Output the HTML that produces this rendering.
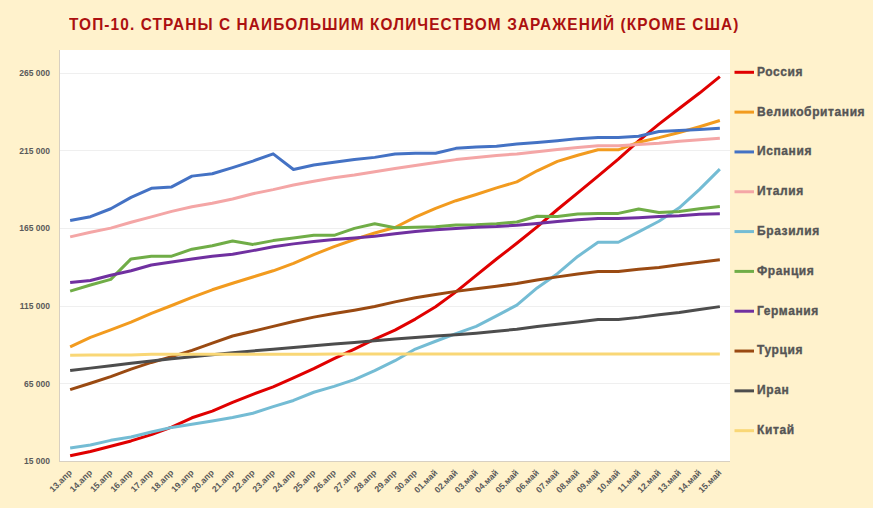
<!DOCTYPE html>
<html><head><meta charset="utf-8">
<style>
html,body{margin:0;padding:0;background:#FFF2CC;}
body{width:873px;height:508px;overflow:hidden;position:relative;font-family:"Liberation Sans",sans-serif;}
#t{position:absolute;left:69px;top:14.0px;transform-origin:0 0;transform:scaleY(1.08);white-space:nowrap;font-weight:bold;font-size:15.4px;color:#AC1010;letter-spacing:1.1px;line-height:20px;}
svg{position:absolute;left:0;top:0;}
.yl{font-size:8.5px;fill:#5A5A5A;font-weight:bold;}
.xl{font-size:8.7px;fill:#5A5A5A;font-weight:bold;}
.lg{font-size:12px;fill:#555555;stroke:#555555;stroke-width:0.35px;font-weight:bold;letter-spacing:0.6px;}
</style></head><body>
<svg width="873" height="508" viewBox="0 0 873 508">
<rect x="60" y="50" width="670" height="411" fill="#FFFFFF"/>
<line x1="60" x2="730" y1="383.5" y2="383.5" stroke="#EFEFEF" stroke-width="1"/>
<text x="50" y="386.5" class="yl" text-anchor="end">65 000</text>
<line x1="60" x2="730" y1="306.5" y2="306.5" stroke="#EFEFEF" stroke-width="1"/>
<text x="50" y="308.9" class="yl" text-anchor="end">115 000</text>
<line x1="60" x2="730" y1="228.5" y2="228.5" stroke="#EFEFEF" stroke-width="1"/>
<text x="50" y="231.4" class="yl" text-anchor="end">165 000</text>
<line x1="60" x2="730" y1="150.5" y2="150.5" stroke="#EFEFEF" stroke-width="1"/>
<text x="50" y="153.8" class="yl" text-anchor="end">215 000</text>
<line x1="60" x2="730" y1="73.5" y2="73.5" stroke="#EFEFEF" stroke-width="1"/>
<text x="50" y="76.3" class="yl" text-anchor="end">265 000</text>
<text x="50" y="464.0" class="yl" text-anchor="end">15 000</text>
<line x1="59.5" x2="59.5" y1="50" y2="461.5" stroke="#D8D0C2" stroke-width="1"/>
<line x1="59" x2="730" y1="461.5" y2="461.5" stroke="#D8D0C2" stroke-width="1"/>
<polyline fill="none" stroke="#E00000" stroke-width="3" stroke-linejoin="round" stroke-linecap="butt" points="70.15,455.84 90.45,451.54 110.76,446.28 131.06,440.93 151.36,434.62 171.67,427.20 191.97,417.80 212.27,411.18 232.58,402.43 252.88,394.31 273.18,386.91 293.48,377.84 313.79,368.58 334.09,358.72 354.39,349.10 374.70,339.16 395.00,330.10 415.30,319.09 435.61,306.79 455.91,291.86 476.21,275.37 496.52,258.96 516.82,243.29 537.12,226.92 557.42,209.50 577.73,192.91 598.03,176.13 618.33,159.05 638.64,140.97 658.94,124.07 679.24,108.52 699.55,93.05 719.85,76.61"/>
<polyline fill="none" stroke="#F29B1F" stroke-width="3" stroke-linejoin="round" stroke-linecap="butt" points="70.15,346.80 90.45,337.30 110.76,329.80 131.06,322.20 151.36,313.40 171.67,305.50 191.97,297.30 212.27,289.80 232.58,283.20 252.88,277.00 273.18,270.80 293.48,263.40 313.79,254.60 334.09,246.60 354.39,239.50 374.70,233.00 395.00,227.50 415.30,217.10 435.61,208.30 455.91,200.70 476.21,194.50 496.52,187.90 516.82,181.90 537.12,170.80 557.42,161.40 577.73,155.30 598.03,149.80 618.33,149.80 638.64,142.20 658.94,137.60 679.24,132.50 699.55,126.70 719.85,120.50"/>
<polyline fill="none" stroke="#4472C4" stroke-width="3" stroke-linejoin="round" stroke-linecap="butt" points="70.15,220.45 90.45,216.66 110.76,208.75 131.06,197.42 151.36,188.28 171.67,186.91 191.97,176.13 212.27,173.75 232.58,167.60 252.88,161.06 273.18,153.88 293.48,169.44 313.79,164.92 334.09,162.24 354.39,159.40 374.70,157.37 395.00,154.04 415.30,153.24 435.61,153.24 455.91,148.36 476.21,146.99 496.52,146.14 516.82,144.10 537.12,142.55 557.42,140.81 577.73,138.63 598.03,137.51 618.33,137.51 638.64,136.31 658.94,131.52 679.24,130.60 699.55,129.58 719.85,128.26"/>
<polyline fill="none" stroke="#F4A6A6" stroke-width="3" stroke-linejoin="round" stroke-linecap="butt" points="70.15,236.86 90.45,232.25 110.76,228.12 131.06,222.25 151.36,216.83 171.67,211.41 191.97,206.69 212.27,203.19 232.58,198.96 252.88,193.73 273.18,189.63 293.48,184.94 313.79,181.29 334.09,177.68 354.39,174.98 374.70,171.74 395.00,168.51 415.30,165.60 435.61,162.56 455.91,159.61 476.21,157.45 496.52,155.56 516.82,153.89 537.12,151.65 557.42,149.48 577.73,147.42 598.03,145.74 618.33,145.74 638.64,144.50 658.94,143.35 679.24,141.17 699.55,139.79 719.85,138.25"/>
<polyline fill="none" stroke="#74BCD4" stroke-width="3" stroke-linejoin="round" stroke-linecap="butt" points="70.15,447.93 90.45,445.08 110.76,440.34 131.06,437.08 151.36,432.03 171.67,427.41 191.97,424.31 212.27,421.07 232.58,417.45 252.88,413.30 273.18,406.66 293.48,400.45 313.79,392.26 334.09,386.40 354.39,379.66 374.70,370.68 395.00,360.68 415.30,349.04 435.61,341.26 455.91,333.67 476.21,326.34 496.52,315.80 516.82,305.20 537.12,287.90 557.42,273.69 577.73,256.44 598.03,242.22 618.33,242.22 638.64,231.93 658.94,221.23 679.24,207.86 699.55,189.37 719.85,169.17"/>
<polyline fill="none" stroke="#70AD47" stroke-width="3" stroke-linejoin="round" stroke-linecap="butt" points="70.15,291.10 90.45,285.00 110.76,279.40 131.06,258.90 151.36,256.20 171.67,256.20 191.97,249.20 212.27,245.70 232.58,241.00 252.88,244.40 273.18,240.60 293.48,238.10 313.79,235.30 334.09,235.30 354.39,228.40 374.70,223.80 395.00,227.80 415.30,227.20 435.61,226.80 455.91,225.00 476.21,224.70 496.52,223.70 516.82,222.00 537.12,216.30 557.42,216.50 577.73,214.00 598.03,213.40 618.33,213.40 638.64,209.00 658.94,212.40 679.24,211.40 699.55,208.80 719.85,206.60"/>
<polyline fill="none" stroke="#7030A0" stroke-width="3" stroke-linejoin="round" stroke-linecap="butt" points="70.15,282.53 90.45,280.53 110.76,275.27 131.06,270.70 151.36,264.97 171.67,261.95 191.97,259.09 212.27,256.17 232.58,254.27 252.88,250.62 273.18,246.77 293.48,243.87 313.79,241.52 334.09,239.57 354.39,238.04 374.70,236.25 395.00,233.73 415.30,231.45 435.61,229.79 455.91,228.41 476.21,227.33 496.52,226.57 516.82,225.25 537.12,223.45 557.42,221.49 577.73,219.69 598.03,218.55 618.33,218.55 638.64,217.69 658.94,216.61 679.24,215.69 699.55,214.25 719.85,213.66"/>
<polyline fill="none" stroke="#9A4A12" stroke-width="3" stroke-linejoin="round" stroke-linecap="butt" points="70.15,389.58 90.45,383.28 110.76,376.64 131.06,369.20 151.36,362.44 171.67,356.58 191.97,350.41 212.27,343.16 232.58,336.01 252.88,331.23 273.18,326.39 293.48,321.55 313.79,317.11 334.09,313.46 354.39,310.15 374.70,306.44 395.00,301.89 415.30,297.83 435.61,294.44 455.91,291.37 476.21,288.78 496.52,286.27 516.82,283.43 537.12,279.94 557.42,276.87 577.73,274.00 598.03,271.61 618.33,271.61 638.64,269.21 658.94,267.49 679.24,264.84 699.55,262.30 719.85,259.77"/>
<polyline fill="none" stroke="#4D4D4D" stroke-width="3" stroke-linejoin="round" stroke-linecap="butt" points="70.15,370.58 90.45,368.13 110.76,365.79 131.06,363.30 151.36,360.97 171.67,358.84 191.97,356.76 212.27,354.75 232.58,352.74 252.88,350.89 273.18,349.29 293.48,347.48 313.79,345.72 334.09,343.93 354.39,342.40 374.70,340.67 395.00,339.01 415.30,337.48 435.61,335.92 455.91,334.68 476.21,333.17 496.52,331.27 516.82,329.22 537.12,326.61 557.42,324.31 577.73,321.89 598.03,319.52 618.33,319.52 638.64,317.38 658.94,314.77 679.24,312.47 699.55,309.43 719.85,306.63"/>
<polyline fill="none" stroke="#F9D776" stroke-width="3" stroke-linejoin="round" stroke-linecap="butt" points="70.15,355.21 90.45,355.06 110.76,354.98 131.06,354.91 151.36,354.36 171.67,354.32 191.97,354.29 212.27,354.27 232.58,354.21 252.88,354.19 273.18,354.16 293.48,354.14 313.79,354.13 334.09,354.12 354.39,354.11 374.70,354.08 395.00,354.07 415.30,354.05 435.61,354.05 455.91,354.05 476.21,354.04 496.52,354.04 516.82,354.03 537.12,354.03 557.42,354.02 577.73,354.02 598.03,354.00 618.33,354.00 638.64,353.97 658.94,353.97 679.24,353.96 699.55,353.95 719.85,353.94"/>
<text class="xl" transform="translate(72.45,473.3) rotate(-45)" text-anchor="end">13.апр</text>
<text class="xl" transform="translate(92.75,473.3) rotate(-45)" text-anchor="end">14.апр</text>
<text class="xl" transform="translate(113.06,473.3) rotate(-45)" text-anchor="end">15.апр</text>
<text class="xl" transform="translate(133.36,473.3) rotate(-45)" text-anchor="end">16.апр</text>
<text class="xl" transform="translate(153.66,473.3) rotate(-45)" text-anchor="end">17.апр</text>
<text class="xl" transform="translate(173.97,473.3) rotate(-45)" text-anchor="end">18.апр</text>
<text class="xl" transform="translate(194.27,473.3) rotate(-45)" text-anchor="end">19.апр</text>
<text class="xl" transform="translate(214.57,473.3) rotate(-45)" text-anchor="end">20.апр</text>
<text class="xl" transform="translate(234.88,473.3) rotate(-45)" text-anchor="end">21.апр</text>
<text class="xl" transform="translate(255.18,473.3) rotate(-45)" text-anchor="end">22.апр</text>
<text class="xl" transform="translate(275.48,473.3) rotate(-45)" text-anchor="end">23.апр</text>
<text class="xl" transform="translate(295.78,473.3) rotate(-45)" text-anchor="end">24.апр</text>
<text class="xl" transform="translate(316.09,473.3) rotate(-45)" text-anchor="end">25.апр</text>
<text class="xl" transform="translate(336.39,473.3) rotate(-45)" text-anchor="end">26.апр</text>
<text class="xl" transform="translate(356.69,473.3) rotate(-45)" text-anchor="end">27.апр</text>
<text class="xl" transform="translate(377.00,473.3) rotate(-45)" text-anchor="end">28.апр</text>
<text class="xl" transform="translate(397.30,473.3) rotate(-45)" text-anchor="end">29.апр</text>
<text class="xl" transform="translate(417.60,473.3) rotate(-45)" text-anchor="end">30.апр</text>
<text class="xl" transform="translate(437.91,473.3) rotate(-45)" text-anchor="end">01.май</text>
<text class="xl" transform="translate(458.21,473.3) rotate(-45)" text-anchor="end">02.май</text>
<text class="xl" transform="translate(478.51,473.3) rotate(-45)" text-anchor="end">03.май</text>
<text class="xl" transform="translate(498.82,473.3) rotate(-45)" text-anchor="end">04.май</text>
<text class="xl" transform="translate(519.12,473.3) rotate(-45)" text-anchor="end">05.май</text>
<text class="xl" transform="translate(539.42,473.3) rotate(-45)" text-anchor="end">06.май</text>
<text class="xl" transform="translate(559.72,473.3) rotate(-45)" text-anchor="end">07.май</text>
<text class="xl" transform="translate(580.03,473.3) rotate(-45)" text-anchor="end">08.май</text>
<text class="xl" transform="translate(600.33,473.3) rotate(-45)" text-anchor="end">09.май</text>
<text class="xl" transform="translate(620.63,473.3) rotate(-45)" text-anchor="end">10.май</text>
<text class="xl" transform="translate(640.94,473.3) rotate(-45)" text-anchor="end">11.май</text>
<text class="xl" transform="translate(661.24,473.3) rotate(-45)" text-anchor="end">12.май</text>
<text class="xl" transform="translate(681.54,473.3) rotate(-45)" text-anchor="end">13.май</text>
<text class="xl" transform="translate(701.85,473.3) rotate(-45)" text-anchor="end">14.май</text>
<text class="xl" transform="translate(722.15,473.3) rotate(-45)" text-anchor="end">15.май</text>
<line x1="734.5" x2="754" y1="72.30" y2="72.30" stroke="#E00000" stroke-width="3"/>
<text x="757" y="75.70" class="lg">Россия</text>
<line x1="734.5" x2="754" y1="112.12" y2="112.12" stroke="#F29B1F" stroke-width="3"/>
<text x="757" y="115.52" class="lg">Великобритания</text>
<line x1="734.5" x2="754" y1="151.94" y2="151.94" stroke="#4472C4" stroke-width="3"/>
<text x="757" y="155.34" class="lg">Испания</text>
<line x1="734.5" x2="754" y1="191.76" y2="191.76" stroke="#F4A6A6" stroke-width="3"/>
<text x="757" y="195.16" class="lg">Италия</text>
<line x1="734.5" x2="754" y1="231.58" y2="231.58" stroke="#74BCD4" stroke-width="3"/>
<text x="757" y="234.98" class="lg">Бразилия</text>
<line x1="734.5" x2="754" y1="271.40" y2="271.40" stroke="#70AD47" stroke-width="3"/>
<text x="757" y="274.80" class="lg">Франция</text>
<line x1="734.5" x2="754" y1="311.22" y2="311.22" stroke="#7030A0" stroke-width="3"/>
<text x="757" y="314.62" class="lg">Германия</text>
<line x1="734.5" x2="754" y1="351.04" y2="351.04" stroke="#9A4A12" stroke-width="3"/>
<text x="757" y="354.44" class="lg">Турция</text>
<line x1="734.5" x2="754" y1="390.86" y2="390.86" stroke="#4D4D4D" stroke-width="3"/>
<text x="757" y="394.26" class="lg">Иран</text>
<line x1="734.5" x2="754" y1="430.68" y2="430.68" stroke="#F9D776" stroke-width="3"/>
<text x="757" y="434.08" class="lg">Китай</text>
</svg>
<div id="t">ТОП-10. СТРАНЫ С НАИБОЛЬШИМ КОЛИЧЕСТВОМ ЗАРАЖЕНИЙ (КРОМЕ США)</div>
</body></html>
